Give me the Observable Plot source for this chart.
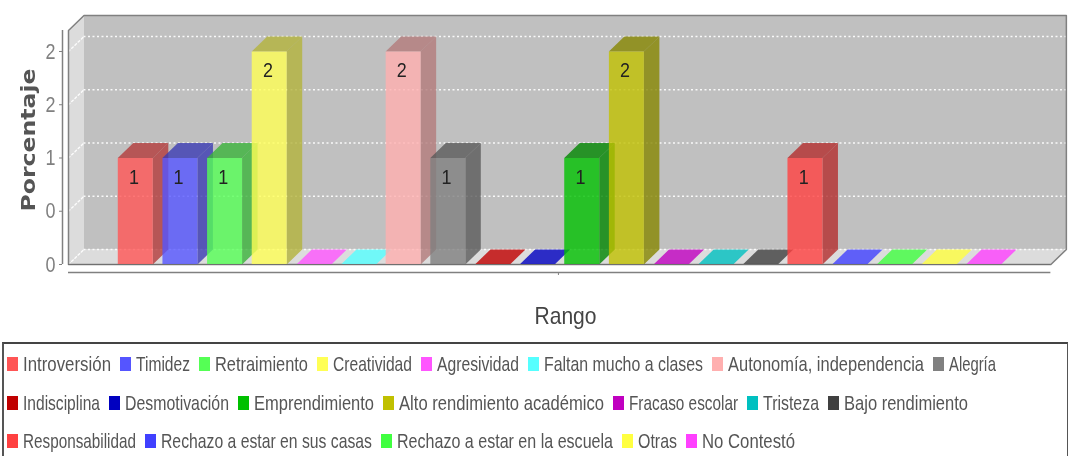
<!DOCTYPE html>
<html>
<head>
<meta charset="utf-8">
<script src="https://cdn.jsdelivr.net/npm/d3@7"></script>
<script src="https://cdn.jsdelivr.net/npm/@observablehq/plot@0.6"></script>
<style>
html,body{margin:0;padding:0;background:#fff;width:1068px;height:456px;overflow:hidden}
body{filter:blur(0.4px)}
svg{display:block}
#legend{box-sizing:border-box;height:114px;margin-left:2px;width:1066px;border-top:2px solid #444;border-left:2px solid #555;border-right:1px solid #555;overflow:hidden;
 font-family:"Liberation Sans",sans-serif;font-size:21px;color:#555}
#rows{padding-left:3px}
.row{display:flex;height:38.5px;align-items:center;column-gap:9px;white-space:nowrap}
.row:first-child{margin-top:1px}
.item{display:flex;align-items:center;column-gap:5px}
.sw{display:inline-block;width:11px;height:14px;flex:none}
.lab{display:inline-block;overflow:visible}
.lab span{display:inline-block;transform-origin:0 50%}
</style>
</head>
<body>
<div id="chart"></div>
<div id="legend"><div id="rows"></div></div>
<script>
const series = ["Introversión","Timidez","Retraimiento","Creatividad","Agresividad","Faltan mucho a clases","Autonomía, independencia","Alegría","Indisciplina","Desmotivación","Emprendimiento","Alto rendimiento académico","Fracaso escolar","Tristeza","Bajo rendimiento","Responsabilidad","Rechazo a estar en sus casas","Rechazo a estar en la escuela","Otras","No Contestó"];
const values = [1,1,1,2,0,0,2,1,0,0,1,2,0,0,0,1,0,0,0,0];
const colors = ["#FF5555","#5555FF","#55FF55","#FFFF55","#FF55FF","#55FFFF","#FFAFAF","#808080","#C00000","#0000C0","#00C000","#C0C000","#C000C0","#00C0C0","#404040","#FF4040","#4040FF","#40FF40","#FFFF40","#FF40FF"];
const legendRowSizes = [8,7,5];
const legendTextWidths = [88,54,93,79,82,159,196,47,77,104,120,205,109,56,124,113,211,216,39,93];
const tickValues = [0,0.5,1,1.5,2];
const tickLabels = ["0","0","1","2","2"];
const yTitle = "Porcentaje";
const xTitle = "Rango";

// 3D box geometry, in data units of the two scales
const barW = 0.784, depthX = 0.347, depthY = 0.141;
const xLeft = -1.104, xRight = 20.9, yTop = 2.197;

const darker = c => { const k = d3.rgb(c); return d3.rgb(k.r*0.7, k.g*0.7, k.b*0.7).formatHex(); };
const poly = (id, fill, pts) => pts.map(([x,y]) => ({id, fill, x, y}));

const wallFaces = [
  ...poly("back", "#c0c0c0", [[xLeft+depthX,depthY],[xRight+depthX,depthY],[xRight+depthX,yTop+depthY],[xLeft+depthX,yTop+depthY]]),
  ...poly("floor", "#dcdcdc", [[xLeft,0],[xRight,0],[xRight+depthX,depthY],[xLeft+depthX,depthY]]),
  ...poly("left", "#dcdcdc", [[xLeft,0],[xLeft+depthX,depthY],[xLeft+depthX,yTop+depthY],[xLeft,yTop]])
];
const outline = poly("outline", "none", [[xLeft,0],[xLeft,yTop],[xLeft+depthX,yTop+depthY],[xRight+depthX,yTop+depthY],[xRight+depthX,depthY],[xRight,0],[xLeft,0]]);

const barFaces = values.flatMap((v,i) => {
  const c = colors[i], d = darker(c);
  const x0 = i, x1 = i + barW;
  const faces = [];
  if (v > 0) {
    faces.push(...poly(`s${i}`, d, [[x1,0],[x1+depthX,depthY],[x1+depthX,v+depthY],[x1,v]]));
  }
  faces.push(...poly(`t${i}`, v > 0 ? d : c, [[x0,v],[x1,v],[x1+depthX,v+depthY],[x0+depthX,v+depthY]]));
  if (v > 0) {
    faces.push(...poly(`f${i}`, c, [[x0,0],[x1,0],[x1,v],[x0,v]]));
  }
  return faces;
});

const gridBack = tickValues.map(t => ({y:t+depthY}));
const gridLeft = tickValues.flatMap(t => [{id:t,x:xLeft,y:t},{id:t,x:xLeft+depthX,y:t+depthY}]);
const labels = values.map((v,i)=>({v,i})).filter(d=>d.v>0);
const sans = '"Liberation Sans",sans-serif';

const chart = Plot.plot({
  width:1068, height:342,
  marginLeft:68, marginRight:2, marginTop:15, marginBottom:78,
  x:{domain:[xLeft,21.25], range:[68,1066], axis:null},
  y:{domain:[0,yTop+depthY], range:[264,15], axis:null},
  color:{type:"identity"},
  style:{background:"#fff", overflow:"visible"},
  marks:[
    Plot.line(wallFaces,{x:"x",y:"y",z:"id",fill:"fill",stroke:"none"}),
    Plot.ruleY(gridBack,{y:"y",x1:xLeft+depthX,x2:xRight+depthX,stroke:"#fff",strokeOpacity:0.9,strokeWidth:1.4,strokeDasharray:"2,2.5"}),
    Plot.line(gridLeft,{x:"x",y:"y",z:"id",stroke:"#fff",strokeOpacity:0.9,strokeWidth:1.4,strokeDasharray:"2,2.5"}),
    Plot.line(outline,{x:"x",y:"y",stroke:"#808080",strokeWidth:1.5}),
    Plot.line(barFaces,{x:"x",y:"y",z:"id",fill:"fill",stroke:"none",fillOpacity:0.8}),
    Plot.ruleY([0],{x1:xLeft,x2:xRight,stroke:"#707070",strokeWidth:1}),
    Plot.text(labels,{x:d=>d.i+barW/2-0.03,y:"v",text:d=>String(d.v),dy:19,fill:"#222",fontSize:21,fontFamily:sans}),
    Plot.ruleX([xLeft],{y1:0,y2:yTop,dx:-6,stroke:"#808080",strokeWidth:1.5}),
    Plot.ruleY([0],{x1:xLeft,x2:xRight,dy:8,stroke:"#808080",strokeWidth:1.5}),
    Plot.axisY({ticks:tickValues,tickFormat:(d,i)=>tickLabels[i],tickSize:3,tickPadding:4,dx:-6,color:"#808080",fontSize:22,fontFamily:sans,label:null}),
    Plot.axisX({ticks:[9.87],tickFormat:()=>"",tickSize:3,dy:8,color:"#808080",label:null}),
    Plot.text([yTitle],{frameAnchor:"left",rotate:-90,dx:-40,textAnchor:"middle",text:d=>d,fill:"#555",fontSize:20,fontWeight:"bold",fontFamily:"DejaVu Sans"}),
    Plot.text([xTitle],{frameAnchor:"bottom",dy:52,dx:-2,lineAnchor:"middle",text:d=>d,fill:"#444",fontSize:24,fontFamily:sans})
  ]
});
// Condense the lettering to the reference's proportions
d3.select(chart).selectAll("text").each(function(){
  const t = this.textContent;
  const len = t === yTitle ? 143 : t === xTitle ? 62 : t.length === 1 ? 10 : 0;
  if (len) { this.setAttribute("textLength", len); this.setAttribute("lengthAdjust", "spacingAndGlyphs"); }
});
document.getElementById("chart").appendChild(chart);

const legend = document.getElementById("rows");
let start = 0;
for (const n of legendRowSizes) {
  const row = legend.appendChild(document.createElement("div"));
  row.className = "row";
  for (let i = start; i < start + n; i++) {
    const it = row.appendChild(document.createElement("span"));
    it.className = "item";
    const sw = it.appendChild(document.createElement("span"));
    sw.className = "sw"; sw.style.background = colors[i];
    const lab = it.appendChild(document.createElement("span"));
    lab.className = "lab"; lab.style.width = legendTextWidths[i] + "px";
    const inner = lab.appendChild(document.createElement("span"));
    inner.textContent = series[i];
    inner.style.transform = `scaleX(${legendTextWidths[i] / inner.getBoundingClientRect().width})`;
  }
  start += n;
}
</script>
</body>
</html>
